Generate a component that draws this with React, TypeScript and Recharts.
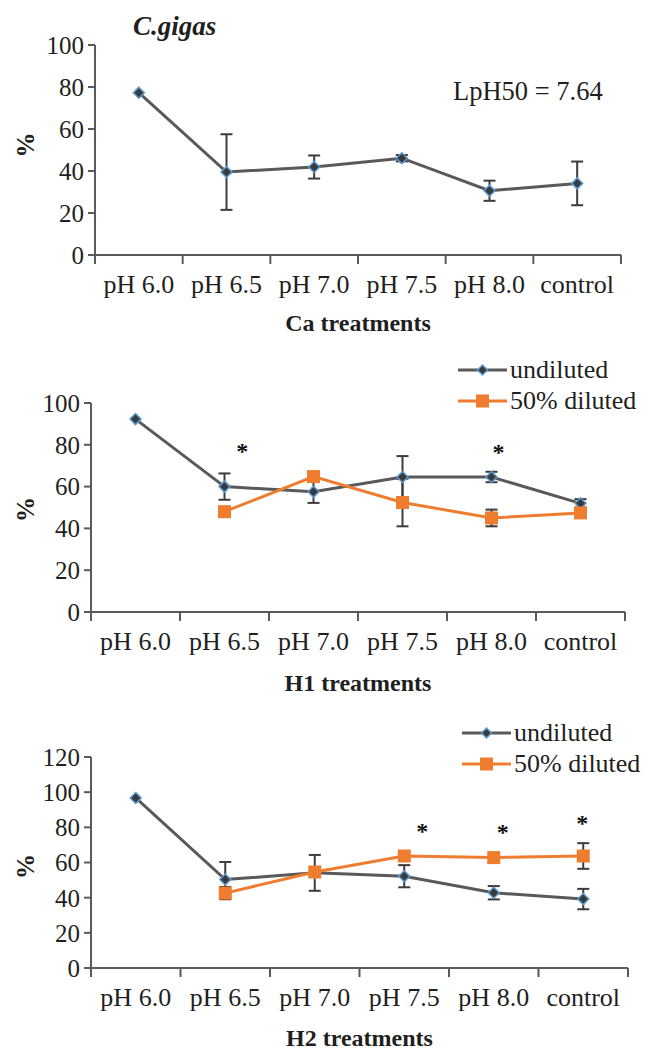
import React from 'react';
import { ComposedChart, Line, Scatter, XAxis, YAxis, ErrorBar, Legend, Label } from 'recharts';

const categories = ['pH 6.0', 'pH 6.5', 'pH 7.0', 'pH 7.5', 'pH 8.0', 'control'];

// Ca treatments
const caValues = [77.3, 39.5, 41.9, 46.1, 30.6, 34.1];
const caErrors = [null, 18, 5.5, 1.5, 4.8, 10.4];

// H1 treatments
const h1Undiluted = [92.3, 60, 57.5, 64.6, 64.6, 52];
const h1UndilutedErr = [null, 6.3, 5.3, 10, 2.5, 2];
const h1Diluted = [null, 48, 64.8, 52.4, 45, 47.4];
const h1DilutedErr = [null, null, null, 11.4, 4, null];
const h1StarX = [1.7, 4.58];
const h1StarY = [79, 78.6];

// H2 treatments
const h2Undiluted = [96.7, 50.3, 54.1, 52.2, 42.8, 39.2];
const h2UndilutedErr = [null, 10, 10.2, 6.3, 3.8, 5.8];
const h2Diluted = [null, 42.6, 54.6, 63.7, 62.8, 63.7];
const h2DilutedErr = [null, 3.5, null, null, null, 7.3];
const h2StarX = [3.7, 4.6, 5.49];
const h2StarY = [80.4, 79.6, 84.8];

const ticks100 = [0, 20, 40, 60, 80, 100];
const ticks120 = [0, 20, 40, 60, 80, 100, 120];

const FONT = "'Liberation Serif', 'Times New Roman', serif";
const AXIS = '#5a5a5a';
const TEXT = '#1f1f1f';
const GRAY = '#595959';
const ORANGE = '#ef7d2f';
const BLUE = '#5b9bd5';
const ERR = '#3c3c3c';

type Num = number | null;

const buildRows = (u: Num[], uErr: Num[], d: Num[] = [], dErr: Num[] = []) =>
  categories.map((name, i) => ({
    x: i + 0.5,
    name,
    u: u[i] ?? null,
    uErr: uErr[i] ?? null,
    d: d[i] ?? null,
    dErr: dErr[i] ?? null,
  }));

const buildStars = (xs: number[], ys: number[]) => xs.map((x, i) => ({ x, y: ys[i] }));

const xTicks = categories.map((_, i) => i).concat(categories.length);

const diamond = (cx: number, cy: number, r = 5.5) => (
  <path
    d={`M${cx},${cy - r}L${cx + r},${cy}L${cx},${cy + r}L${cx - r},${cy}Z`}
    fill="#3a3a3a"
    stroke={BLUE}
    strokeWidth={1.5}
  />
);

const square = (cx: number, cy: number, s = 13) => (
  <rect x={cx - s / 2} y={cy - s / 2} width={s} height={s} fill={ORANGE} />
);

const DiamondDot = (p: any) => {
  if (p.cx == null || p.cy == null || p.value == null) return <g key={p.key} />;
  return <g key={p.key}>{diamond(p.cx, p.cy)}</g>;
};

const SquareDot = (p: any) => {
  if (p.cx == null || p.cy == null || p.value == null) return <g key={p.key} />;
  return <g key={p.key}>{square(p.cx, p.cy)}</g>;
};

const StarShape = (p: any) => (
  <text x={p.cx} y={p.cy + 12} textAnchor="middle" fontSize={24} fontWeight="bold" fontFamily={FONT} fill="#111">
    *
  </text>
);

const renderLegend = (props: any) => {
  const items = (props.payload || [])
    .filter((it: any) => it.type !== 'none')
    .slice()
    .sort((a: any, b: any) => (a.dataKey === 'u' ? -1 : b.dataKey === 'u' ? 1 : 0));
  return (
    <svg width={200} height={64}>
      {items.map((it: any, i: number) => {
        const cy = 15 + i * 31;
        return (
          <g key={i}>
            <line x1={2} x2={51} y1={cy} y2={cy} stroke={it.color} strokeWidth={3} />
            {it.dataKey === 'u' ? diamond(26.5, cy, 5) : square(26.5, cy, 13)}
            <text x={54} y={cy + 8} fontSize={26} fontFamily={FONT} fill={TEXT}>
              {it.value}
            </text>
          </g>
        );
      })}
    </svg>
  );
};

interface PanelProps {
  top: number;
  height: number;
  margin: { top: number; right: number; bottom: number; left: number };
  xAxisHeight: number;
  yMax: number;
  yTicks: number[];
  rows: ReturnType<typeof buildRows>;
  twoSeries?: boolean;
  stars?: { x: number; y: number }[];
  xTitle: string;
  pctShift?: number;
  legendTop?: number;
  legendLeft?: number;
}

const Panel = ({
  top,
  height,
  margin,
  xAxisHeight,
  yMax,
  yTicks,
  rows,
  twoSeries,
  stars,
  xTitle,
  pctShift = 0,
  legendTop,
  legendLeft,
}: PanelProps) => {
  const band = (657 - margin.left - 85 - margin.right) / categories.length;
  return (
    <div style={{ position: 'absolute', left: 0, top, width: 657, height }}>
      <ComposedChart width={657} height={height} data={rows} margin={margin}>
        <XAxis
          type="number"
          dataKey="x"
          domain={[0, categories.length]}
          ticks={xTicks}
          interval={0}
          allowDataOverflow
          height={xAxisHeight}
          axisLine={{ stroke: AXIS, strokeWidth: 2 }}
          tickLine={{ stroke: AXIS, strokeWidth: 2 }}
          tickSize={9}
          tickMargin={11}
          tick={(p: any) =>
            p.payload.value < categories.length ? (
              <text x={p.x + band / 2} y={p.y + 18} textAnchor="middle" fontSize={26} fontFamily={FONT} fill={TEXT}>
                {categories[p.payload.value]}
              </text>
            ) : (
              <g />
            )
          }
        >
          <Label value={xTitle} position="insideBottom" offset={0} fontSize={24} fontWeight="bold" fontFamily={FONT} fill={TEXT} />
        </XAxis>
        <YAxis
          type="number"
          domain={[0, yMax]}
          ticks={yTicks}
          interval={0}
          allowDataOverflow
          width={85}
          axisLine={{ stroke: AXIS, strokeWidth: 2 }}
          tickLine={{ stroke: AXIS, strokeWidth: 2 }}
          tickSize={7}
          tickMargin={4}
          tick={{ fontSize: 25, fontFamily: FONT, fill: TEXT }}
        >
          <Label
            content={(p: any) => {
              const vb = p.viewBox || {};
              const cy = (vb.y ?? 0) + (vb.height ?? 0) / 2 + pctShift;
              return (
                <text
                  x={25}
                  y={cy}
                  transform={`rotate(-90 25 ${cy})`}
                  textAnchor="middle"
                  dominantBaseline="central"
                  fontSize={25}
                  fontWeight="bold"
                  fontFamily={FONT}
                  fill={TEXT}
                >
                  %
                </text>
              );
            }}
          />
        </YAxis>
        <Line
          type="linear"
          dataKey="u"
          name="undiluted"
          stroke={GRAY}
          strokeWidth={3}
          dot={DiamondDot}
          activeDot={false}
          isAnimationActive={false}
        >
          <ErrorBar dataKey="uErr" width={6} stroke={ERR} strokeWidth={2} direction="y" />
        </Line>
        {twoSeries && (
          <Line
            type="linear"
            dataKey="d"
            name="50% diluted"
            stroke={ORANGE}
            strokeWidth={3}
            dot={SquareDot}
            activeDot={false}
            isAnimationActive={false}
          >
            <ErrorBar dataKey="dErr" width={6} stroke={ERR} strokeWidth={2} direction="y" />
          </Line>
        )}
        {stars && (
          <Scatter data={stars} dataKey="y" shape={StarShape} legendType="none" isAnimationActive={false} />
        )}
        {twoSeries && (
          <Legend
            layout="vertical"
            align="center"
            verticalAlign="middle"
            content={renderLegend}
            wrapperStyle={{ left: legendLeft, top: legendTop, width: 200, height: 64 }}
          />
        )}
      </ComposedChart>
    </div>
  );
};

const App = () => {
  return (
    <div style={{ position: 'absolute', left: 0, top: 0, width: 657, height: 1050, background: '#fff' }}>
      <Panel
        top={0}
        height={340}
        margin={{ top: 45, right: 36, bottom: 9, left: 10 }}
        xAxisHeight={76}
        yMax={100}
        yTicks={ticks100}
        rows={buildRows(caValues, caErrors)}
        xTitle="Ca treatments"
        pctShift={-5}
      />
      <svg style={{ position: 'absolute', left: 0, top: 0, pointerEvents: 'none' }} width={657} height={120}>
        <text x={133} y={35} fontSize={27} fontWeight="bold" fontStyle="italic" fontFamily={FONT} fill={TEXT}>
          C.gigas
        </text>
        <text x={453} y={100} fontSize={26.5} fontFamily={FONT} fill={TEXT}>
          LpH50 = 7.64
        </text>
      </svg>
      <Panel
        top={340}
        height={360}
        margin={{ top: 63, right: 32, bottom: 9, left: 6 }}
        xAxisHeight={79}
        yMax={100}
        yTicks={ticks100}
        rows={buildRows(h1Undiluted, h1UndilutedErr, h1Diluted, h1DilutedErr)}
        twoSeries
        stars={buildStars(h1StarX, h1StarY)}
        xTitle="H1 treatments"
        pctShift={2}
        legendTop={15}
        legendLeft={456}
      />
      <Panel
        top={690}
        height={360}
        margin={{ top: 67, right: 29, bottom: 4, left: 6 }}
        xAxisHeight={78}
        yMax={120}
        yTicks={ticks120}
        rows={buildRows(h2Undiluted, h2UndilutedErr, h2Diluted, h2DilutedErr)}
        twoSeries
        stars={buildStars(h2StarX, h2StarY)}
        xTitle="H2 treatments"
        pctShift={4}
        legendTop={28}
        legendLeft={460}
      />
    </div>
  );
};

export default App;
